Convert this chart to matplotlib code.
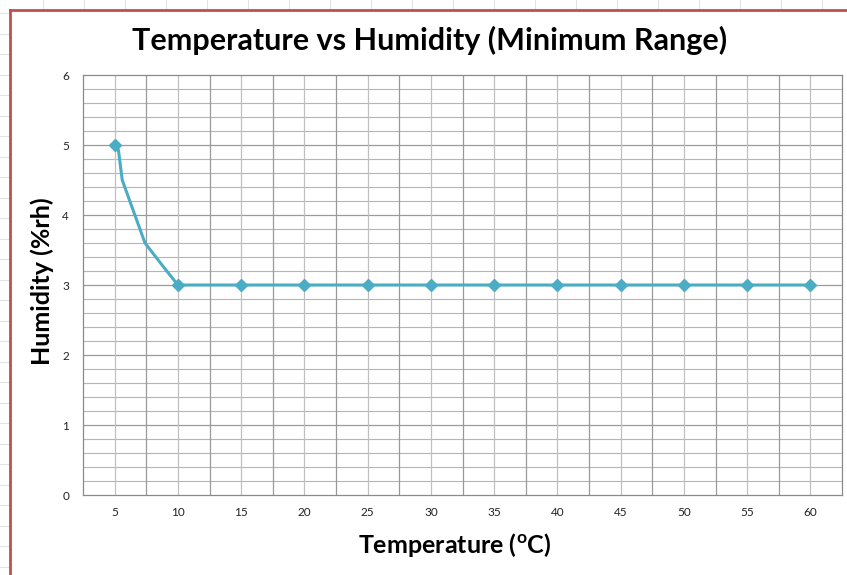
import matplotlib
matplotlib.use("Agg")
import matplotlib.pyplot as plt
from matplotlib.lines import Line2D
import numpy as np

# Data
temps = [5, 5.3, 5.6, 7.4, 8.9, 10, 15, 20, 25, 30, 35, 40, 45, 50, 55, 60]
humidity = [5.0, 4.93, 4.5, 3.6, 3.25, 3.0, 3, 3, 3, 3, 3, 3, 3, 3, 3, 3]
marker_temps = [5, 10, 15, 20, 25, 30, 35, 40, 45, 50, 55, 60]
marker_hum = [5, 3, 3, 3, 3, 3, 3, 3, 3, 3, 3, 3]
xtick_labels = ["5", "10", "15", "20", "25", "30", "35", "40", "45", "50", "55", "60"]
yticks = [0, 1, 2, 3, 4, 5, 6]

plt.rcParams['font.family'] = ['Lato', 'DejaVu Sans']
plt.rcParams['mathtext.fontset'] = 'custom'
plt.rcParams['mathtext.bf'] = 'Lato:bold'
plt.rcParams['mathtext.rm'] = 'Lato'

W, H = 847, 575
fig = plt.figure(figsize=(W / 100, H / 100), dpi=100)

# spreadsheet background outside chart border
for x in np.arange(43, W, 41):
    fig.add_artist(Line2D([x / W, x / W], [1, 1 - 9 / H], color='#e2e2e2', lw=0.8))
for y in np.arange(13, H, 20.5):
    fig.add_artist(Line2D([0, 8 / W], [1 - y / H, 1 - y / H], color='#e2e2e2', lw=0.8))
# red chart border
fig.add_artist(Line2D([10 / W, 10 / W], [0, 1 - 10 / H], color='#c0504d', lw=2))
fig.add_artist(Line2D([10 / W, 1], [1 - 10 / H, 1 - 10 / H], color='#c0504d', lw=2))

ax = fig.add_axes([83 / W, 80 / H, (842 - 83) / W, (495 - 75) / H])
ax.set_xlim(2.5, 62.5)
ax.set_ylim(0, 6)

# grid
for y in np.arange(0.2, 6.0, 0.2):
    major = abs(y - round(y)) < 1e-6
    ax.axhline(y, color='#9a9a9a' if major else '#b5b5b5', lw=0.9 if major else 0.8, zorder=1)
for x in np.arange(5, 62.5, 2.5):
    boundary = abs((x - 2.5) % 5) < 1e-6
    ax.axvline(x, color='#9a9a9a' if boundary else '#c0c0c0', lw=0.9, zorder=1)

ax.plot(temps, humidity, color='#4bacc6', lw=2.2, zorder=3)
ax.plot(marker_temps, marker_hum, linestyle='none', marker='D', ms=6,
        color='#4bacc6', zorder=4)

ax.set_xticks(marker_temps)
ax.set_xticklabels(xtick_labels)
ax.set_yticks(yticks)
ax.set_yticklabels([str(v) for v in yticks])
ax.tick_params(length=0, labelsize=8.5, colors='#222222')
ax.tick_params(axis='y', pad=10)
ax.tick_params(axis='x', pad=9)
for s in ax.spines.values():
    s.set_color('#8a8a8a')
    s.set_linewidth(0.9)

fig.text(430 / W, 1 - 40 / H, 'Temperature vs Humidity (Minimum Range)',
         ha='center', va='center', fontsize=22, fontweight='bold')
fig.text(455 / W, 1 - 545 / H, r'Temperature ($\mathbf{^{o}}$C)',
         ha='center', va='center', fontsize=18, fontweight='bold')
fig.text(42 / W, 1 - 281 / H, 'Humidity (%rh)', rotation=90,
         ha='center', va='center', fontsize=18, fontweight='bold')

fig.savefig('out.png', dpi=100)
